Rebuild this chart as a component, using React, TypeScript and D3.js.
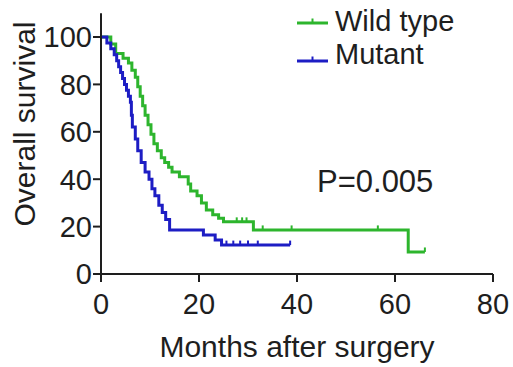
import React, { useRef, useEffect } from 'react';
import * as d3 from 'd3';

// Kaplan-Meier steps (months, % surviving after the step)
const wildTimes = [0, 2.0, 3.0, 4.5, 5.6, 6.3, 7.0, 7.5, 8.0, 8.5, 9.0, 9.6, 10.2, 10.8, 11.5, 12.3, 13.0, 13.8, 14.5, 16.0, 17.8, 18.3, 19.6, 20.5, 21.5, 22.8, 24.0, 25.0, 31.1, 62.7, 66.1];
const wildSurv = [100, 97, 93, 91, 89, 86, 83, 79, 75, 71, 67, 63, 59, 55, 52, 49, 47, 45, 43, 41, 38, 35, 33, 30, 27, 25, 23.5, 22, 18.6, 9.3, 9.3];
const wildCensor = [27.7, 28.8, 29.7, 33, 38.9, 56.5, 66.1];

const mutTimes = [0, 1.2, 2.0, 2.7, 3.2, 3.6, 4.0, 4.4, 4.8, 5.2, 5.6, 6.0, 6.2, 6.4, 7.0, 7.5, 8.2, 9.0, 9.8, 10.4, 11.0, 11.8, 12.5, 13.2, 14.0, 20.9, 23.3, 24.6, 38.6];
const mutSurv = [100, 97.5, 95, 92.5, 90, 87.5, 85, 82.5, 80, 77.5, 75, 72.5, 67, 62, 57, 52, 47, 43, 40, 36, 33, 29, 26, 23, 18.6, 16.5, 14.3, 12.2, 12.2];
const mutCensor = [25.6, 27, 28.4, 30, 32, 38.6];

const xTicks = [0, 20, 40, 60, 80];
const yTicks = [0, 20, 40, 60, 80, 100];
const seriesNames = ['Wild type', 'Mutant'];
const pText = 'P=0.005';

const GREEN = '#2db52d';
const BLUE = '#1d1dc4';
const INK = '#1e1e1e';
const FONT = 'Liberation Sans, Arial, sans-serif';

const App = () => {
    const ref = useRef<SVGSVGElement>(null);

    useEffect(() => {
        const svg = d3.select(ref.current);
        svg.selectAll('*').remove();

        const x = d3.scaleLinear().domain([0, 80]).range([101, 493]);
        const y = d3.scaleLinear().domain([0, 100]).range([274, 37]);

        const series = [
            { t: wildTimes, s: wildSurv, c: wildCensor, color: GREEN },
            { t: mutTimes, s: mutSurv, c: mutCensor, color: BLUE },
        ];

        const line = d3.line<[number, number]>()
            .x(d => x(d[0]))
            .y(d => y(d[1]))
            .curve(d3.curveStepAfter);

        series.forEach(sr => {
            const pts = sr.t.map((t, i) => [t, sr.s[i]] as [number, number]);
            svg.append('path')
                .attr('d', line(pts))
                .attr('fill', 'none')
                .attr('stroke', sr.color)
                .attr('stroke-width', 3);

            // censor marks
            sr.c.forEach(ct => {
                let idx = 0;
                sr.t.forEach((t, i) => { if (t <= ct) idx = i; });
                const v = sr.s[idx];
                svg.append('line')
                    .attr('x1', x(ct)).attr('x2', x(ct))
                    .attr('y1', y(v)).attr('y2', y(v) - 4.5)
                    .attr('stroke', sr.color)
                    .attr('stroke-width', 2);
            });
        });

        // axes
        const axis = svg.append('g').attr('stroke', INK).attr('stroke-width', 2);
        axis.append('line').attr('x1', x(0)).attr('x2', x(0)).attr('y1', y(110)).attr('y2', y(0) + 8);
        axis.append('line').attr('x1', x(0) - 8).attr('x2', x(80)).attr('y1', y(0)).attr('y2', y(0));
        yTicks.forEach(v => {
            axis.append('line').attr('x1', x(0) - 8).attr('x2', x(0)).attr('y1', y(v)).attr('y2', y(v));
        });
        xTicks.forEach(v => {
            axis.append('line').attr('x1', x(v)).attr('x2', x(v)).attr('y1', y(0)).attr('y2', y(0) + 8);
        });

        const txt = svg.append('g').attr('font-family', FONT).attr('fill', INK);
        yTicks.forEach(v => {
            txt.append('text')
                .attr('x', x(0) - 9).attr('y', y(v)).attr('dy', '0.36em')
                .attr('text-anchor', 'end').attr('font-size', 29)
                .text(v);
        });
        xTicks.forEach(v => {
            txt.append('text')
                .attr('x', x(v)).attr('y', 314)
                .attr('text-anchor', 'middle').attr('font-size', 29)
                .text(v);
        });
        txt.append('text')
            .attr('x', x(40)).attr('y', 357)
            .attr('text-anchor', 'middle').attr('font-size', 30)
            .text('Months after surgery');
        txt.append('text')
            .attr('transform', 'translate(35,124) rotate(-90)')
            .attr('text-anchor', 'middle').attr('font-size', 30)
            .text('Overall survival');
        txt.append('text')
            .attr('x', 317).attr('y', 192).attr('font-size', 31)
            .text(pText);

        // legend
        const legY = [23, 61];
        const legTextY = [31, 64];
        seriesNames.forEach((name, i) => {
            const c = series[i].color;
            svg.append('line').attr('x1', 297).attr('x2', 328).attr('y1', legY[i]).attr('y2', legY[i])
                .attr('stroke', c).attr('stroke-width', 3);
            svg.append('line').attr('x1', 312.5).attr('x2', 312.5).attr('y1', legY[i]).attr('y2', legY[i] - 4.5)
                .attr('stroke', c).attr('stroke-width', 2);
            txt.append('text').attr('x', 335).attr('y', legTextY[i]).attr('font-size', 29).text(name);
        });
    }, []);

    return (
        <svg ref={ref} width={513} height={367}
            style={{ position: 'absolute', left: 0, top: 0, background: '#fff' }} />
    );
};

export default App;
